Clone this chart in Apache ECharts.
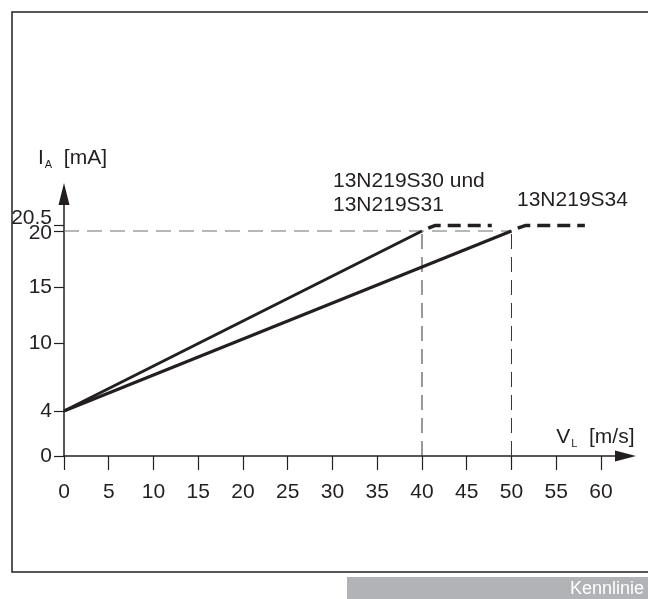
<!DOCTYPE html>
<html><head><meta charset="utf-8">
<script src="https://cdn.jsdelivr.net/npm/echarts@6/dist/echarts.min.js"></script>
<style>html,body{margin:0;padding:0;background:#fff}#c{width:648px;height:599px}</style>
</head><body><div id="c"></div>
<script>
// ---- data ----
const xTicks = [0, 5, 10, 15, 20, 25, 30, 35, 40, 45, 50, 55, 60];
const yTicks = [0, 4, 10, 15, 20];
const yTicksExtra = [20.5];
const lineS30 = [[0, 4], [40, 20]];
const lineS34 = [[0, 4], [50, 20]];
const satS30 = [[40.7, 20.25], [41.5, 20.5], [47.8, 20.5]];
const satS34 = [[50.7, 20.25], [51.6, 20.5], [58.2, 20.5]];
const refH20 = [[0, 20], [50, 20]];
const refV40 = [[40, 0], [40, 20]];
const refV50 = [[50, 0], [50, 20]];
const labelS30 = ['13N219S30 und', '13N219S31'];
const labelS34 = '13N219S34';
const footer = 'Kennlinie';

const FONT = 'Liberation Sans, Arial, sans-serif';
const INK = '#231f20';
const FS = 21;

const chart = echarts.init(document.getElementById('c'), null, {renderer: 'canvas'});

function line(data, opts) {
  return Object.assign({
    type: 'line', data: data, symbol: 'none', silent: true, animation: false,
    yAxisIndex: 0, lineStyle: {color: INK, width: 3}
  }, opts);
}

const Y_MAX = 23.29;

chart.setOption({
  animation: false,
  backgroundColor: '#fff',
  textStyle: {fontFamily: FONT},
  grid: {left: 64, right: 22.5, top: 194, bottom: 143},
  xAxis: {
    type: 'value', min: 0, max: 62.74,
    name: '{b|V}{s|L}{b|  [m/s]}',
    nameLocation: 'end', nameGap: 9,
    nameTextStyle: {
      align: 'right', verticalAlign: 'bottom', padding: [0, 0, 7, 0],
      rich: {
        b: {fontSize: FS, fontFamily: FONT, color: INK},
        s: {fontSize: 11, fontFamily: FONT, color: INK, padding: [12, 0, 0, 1]}
      }
    },
    axisLine: {lineStyle: {color: INK, width: 1.5}, symbol: ['none', 'triangle'], symbolSize: [11, 21]},
    axisTick: {customValues: xTicks, length: 14, lineStyle: {color: INK, width: 1.2}},
    axisLabel: {customValues: xTicks, margin: 26, fontSize: FS, fontFamily: FONT, color: INK, hideOverlap: false},
    splitLine: {show: false}
  },
  yAxis: [{
    type: 'value', min: 0, max: Y_MAX,
    name: '{b|I}{s|A}{b|  [mA]}',
    nameLocation: 'end', nameGap: 24,
    nameTextStyle: {
      align: 'center', padding: [0, 0, 0, 17],
      rich: {
        b: {fontSize: FS, fontFamily: FONT, color: INK},
        s: {fontSize: 11, fontFamily: FONT, color: INK, padding: [12, 0, 0, 1]}
      }
    },
    axisLine: {lineStyle: {color: INK, width: 1.5}, symbol: ['none', 'triangle'], symbolSize: [11, 22]},
    axisTick: {customValues: yTicks, length: 10, lineStyle: {color: INK, width: 1.2}},
    axisLabel: {
      customValues: yTicks, margin: 12, color: INK, hideOverlap: false,
      formatter: function (v) { return Math.abs(v - 20) < 1e-6 ? '{dn|' + v + '}' : '{n|' + v + '}'; },
      rich: {
        n: {fontSize: FS, fontFamily: FONT, color: INK},
        dn: {fontSize: FS, fontFamily: FONT, color: INK, padding: [5, 0, 0, 0]}
      }
    },
    splitLine: {show: false}
  }, {
    type: 'value', min: 0, max: Y_MAX, position: 'left', offset: 0,
    axisLine: {show: false},
    axisTick: {customValues: yTicksExtra, length: 10, lineStyle: {color: INK, width: 1.2}},
    axisLabel: {
      customValues: yTicksExtra, margin: 12, color: INK, hideOverlap: false,
      formatter: function (v) { return '{up|' + v + '}'; },
      rich: {
        up: {fontSize: FS, fontFamily: FONT, color: INK, padding: [0, 0, 14, 0]}
      }
    },
    splitLine: {show: false}
  }],
  series: [
    line(refH20, {lineStyle: {color: '#6d6e71', width: 1, type: [15, 8]}}),
    line(refV40, {lineStyle: {color: '#333', width: 1, type: [15, 8]}}),
    line(refV50, {lineStyle: {color: '#333', width: 1, type: [15, 8]}}),
    line(lineS30),
    line(lineS34),
    line(satS30, {lineStyle: {color: INK, width: 3.5, type: [13, 7]}}),
    line(satS34, {lineStyle: {color: INK, width: 3.5, type: [13, 7]}})
  ],
  graphic: [
    {type: 'rect', silent: true, shape: {x: 12, y: 12, width: 660, height: 560},
      style: {fill: 'none', stroke: INK, lineWidth: 1.5}},
    {type: 'text', silent: true, x: 333, y: 181,
      style: {text: labelS30[0], font: FS + 'px ' + FONT, fill: INK, verticalAlign: 'middle'}},
    {type: 'text', silent: true, x: 333, y: 205,
      style: {text: labelS30[1], font: FS + 'px ' + FONT, fill: INK, verticalAlign: 'middle'}},
    {type: 'text', silent: true, x: 517, y: 200,
      style: {text: labelS34, font: FS + 'px ' + FONT, fill: INK, verticalAlign: 'middle'}},
    {type: 'rect', silent: true, shape: {x: 347, y: 577, width: 301, height: 22},
      style: {fill: '#b1b3b6'}},
    {type: 'text', silent: true, x: 644, y: 589,
      style: {text: footer, font: '18px ' + FONT, fill: '#fff', align: 'right', verticalAlign: 'middle'}}
  ]
});
</script>
</body></html>
